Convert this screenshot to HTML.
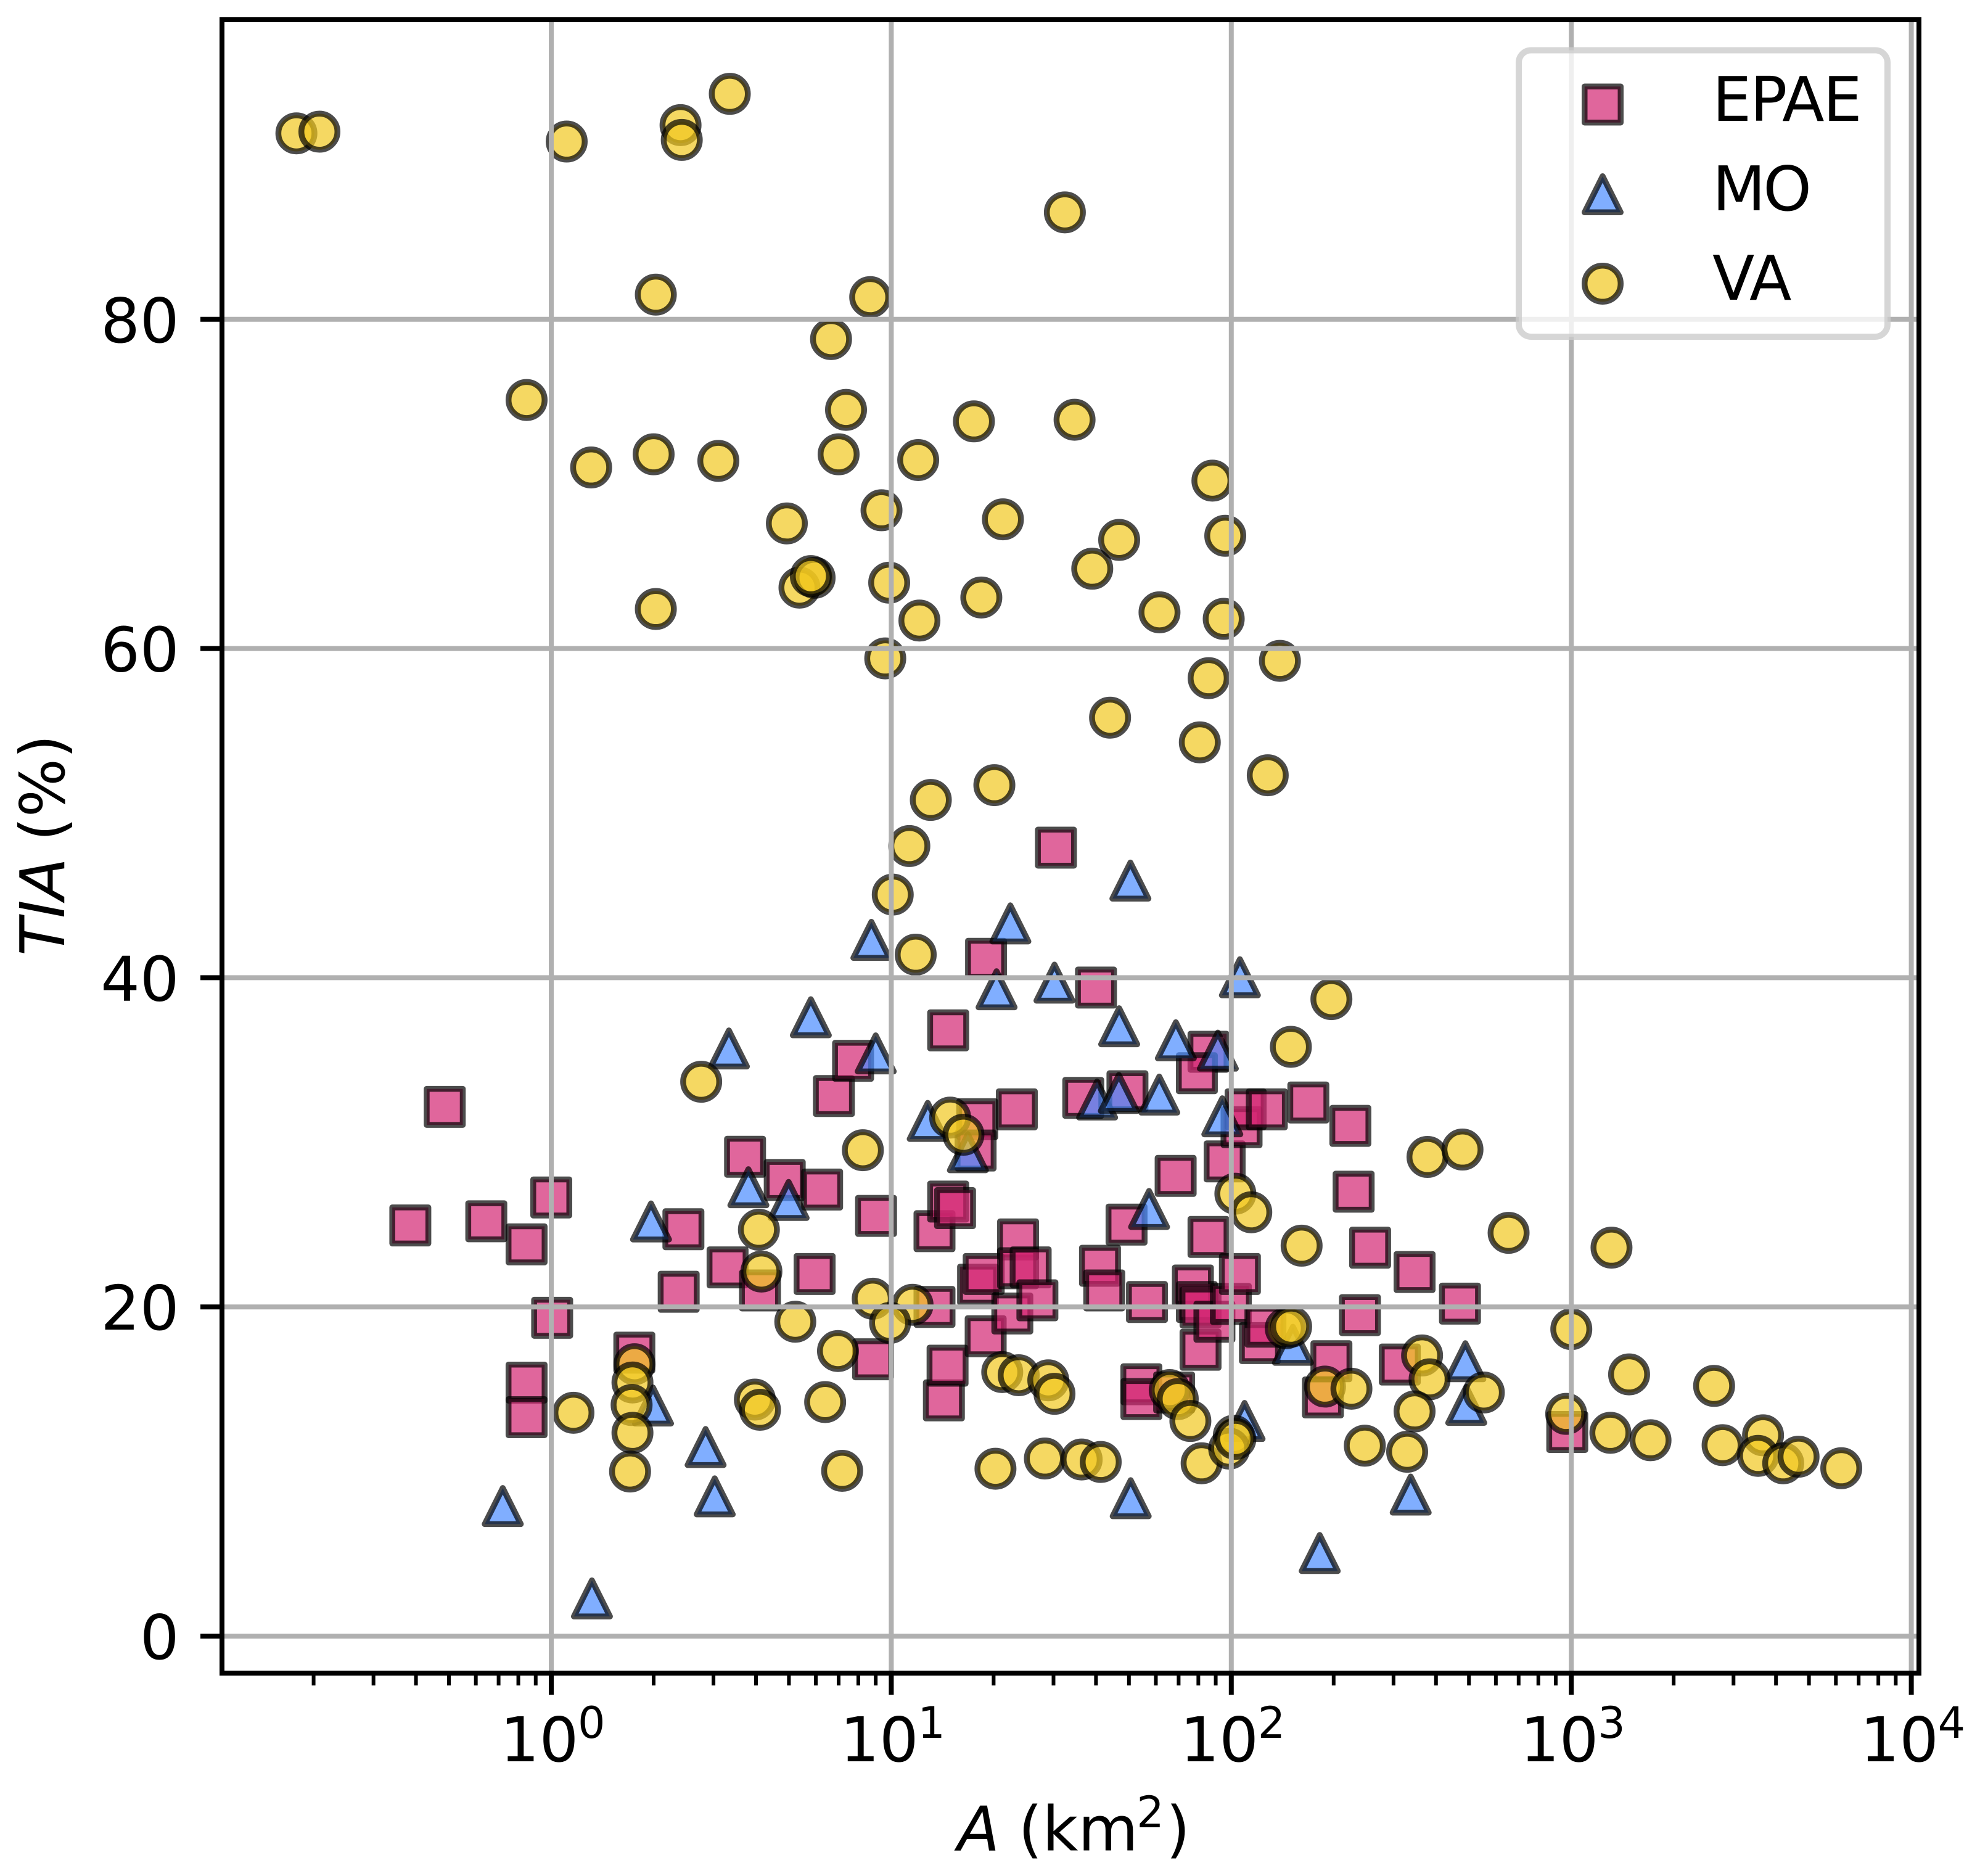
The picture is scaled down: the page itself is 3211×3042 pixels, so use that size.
<!DOCTYPE html>
<html lang="en">
<head>
<meta charset="utf-8">
<title>TIA vs A scatter</title>
<style>
html,body{margin:0;padding:0;background:#fff;width:3211px;height:3042px;overflow:hidden}
svg{display:block}
text{font-family:"DejaVu Sans",sans-serif;fill:#000;font-size:100px}
</style>
</head>
<body>
<svg id="chart" xmlns="http://www.w3.org/2000/svg" width="3211" height="3042" viewBox="0 0 3211 3042">
<rect x="0" y="0" width="3211" height="3042" fill="#fff"/>
<g id="marks"></g>
<g id="grid"></g>
<g id="ticks"></g>
<rect x="360" y="32" width="2752" height="2681" fill="none" stroke="#000" stroke-width="8" stroke-linejoin="miter"/>
<text x="1552.7" y="3000.5"><tspan font-style="italic">A</tspan> <tspan x="1651.4">(km</tspan><tspan x="1843.2" dy="-37.5" style="font-size:70px">2</tspan><tspan x="1891" dy="37.5">)</tspan></text>
<text transform="translate(104,1370.5) rotate(-90)" text-anchor="middle"><tspan font-style="italic">TIA</tspan><tspan dx="-5"> (%)</tspan></text>
<g id="legend">
<rect x="2463" y="81.5" width="598" height="464.5" rx="20" ry="20" fill="#fff" fill-opacity="0.8" stroke="#ccc" stroke-opacity="0.8" stroke-width="10"/>
<rect x="2569.75" y="140.25" width="58.5" height="58.5" fill="#d32572" fill-opacity="0.7" stroke="#000" stroke-opacity="0.7" stroke-width="9.5" stroke-linejoin="round"/>
<text x="2777" y="196" letter-spacing="-2">EPAE</text>
<polygon points="2599,285.75 2569.75,344.25 2628.25,344.25" fill="#4a8cff" fill-opacity="0.7" stroke="#000" stroke-opacity="0.7" stroke-width="9.5" stroke-linejoin="round"/>
<text x="2777" y="341" letter-spacing="-4">MO</text>
<circle cx="2599" cy="460" r="29.25" fill="#f1c81f" fill-opacity="0.7" stroke="#000" stroke-opacity="0.7" stroke-width="9.5"/>
<text x="2777" y="486" letter-spacing="-2">VA</text>
</g>
</svg>
<script>
const xTickExponents = [0, 1, 2, 3, 4];
const yTickValues = [0, 20, 40, 60, 80];
const minorMultipliers = [2, 3, 4, 5, 6, 7, 8, 9];
const minorDecades = [0.1, 1, 10, 100, 1000];

const epaeA = [0.486,0.385,0.644,0.846,1.0,1.006,0.846,0.846,1.755,2.447,2.37,3.3,3.715,4.11,4.86,6.26,5.95,6.78,7.72,9.02,8.84,13.4,13.4,14.28,14.64,14.7,14.7,15.4,17.9,17.7,19,23.4,23.6,18.0,18.7,18.95,22.7,23.6,25.7,26.9,30.5,40,36.7,49.5,49.2,41.1,42.3,56.5,54.4,54.4,68.6,85.7,79.2,77.1,85.7,95.6,79.2,81.2,81.2,89.2,99.7,106,107.2,110.2,127.2,168.5,224,229,256,346,470.5,239,121.4,126,197,186,313,973,67.9];
const epaeTIA = [32.15,24.95,25.2,23.8,26.65,19.34,15.4,13.3,17.22,24.72,20.92,22.4,29.12,21.0,27.71,27.13,22.0,32.81,34.95,25.53,16.82,24.6,20.0,14.32,16.43,36.8,26.4,26.0,31.4,29.5,41.15,32.0,24.1,21.35,22.0,18.22,19.6,22.35,22.4,20.4,47.9,39.4,32.7,33.1,25.0,22.5,21.0,20.3,15.3,14.4,27.96,35.5,34.2,21.3,24.25,28.84,20.3,19.96,17.4,19.1,20.18,22.0,30.92,32,32,32.42,31,27,23.6,22.12,20.2,19.5,17.8,18.8,16.7,14.5,16.5,12.4,14.8];

const moA = [1.317,0.72,2.844,3.025,1.965,1.992,3.33,3.80,4.99,5.8,8.74,9.0,12.8,16.8,20.4,22.4,30.2,50.5,46.8,40.3,46.7,61.4,68.7,91.3,106,94.1,57.3,50.6,109.4,182,151.8,337,488,491];
const moTIA = [2.29,7.9,11.49,8.49,25.19,14.01,35.7,27.27,26.5,37.6,42.3,35.4,31.3,29.4,39.3,43.3,39.7,45.9,37.05,32.6,33.0,32.9,36.2,35.57,40.03,31.58,25.95,8.38,13.07,5.05,17.7,8.6,16.7,14.05];

const vaA = [0.178,0.208,1.11,2.40,2.42,3.35,32.4,2.03,8.67,6.65,0.846,7.36,17.5,34.6,1.31,2.0,3.1,7.0,12,88,4.93,9.36,21.3,46.8,96,39,5.37,5.95,5.8,9.86,2.03,12.1,18.4,61.5,95,9.6,139,85.8,44,80.8,128,20.1,13.07,11.3,10.1,11.8,197,149.7,2.76,8.25,14.9,16.3,377.6,478.6,102.8,114.5,654,161,1313,4.08,4.15,8.82,5.22,11.55,9.92,6.97,1.757,1.733,1.723,1.733,1.705,1.162,3.97,4.11,6.39,7.17,21.2,23.7,28.96,30.2,20.25,28.3,36.3,41.3,65.9,69.6,75.8,81.8,101.7,98.6,102.8,144.6,150,188.6,225.6,247,364,383,346,329,553,1000,966,1479,1303,1710,2630,2786,3664,3543,4200,4660,6223];
const vaTIA = [91.3,91.4,90.8,91.8,90.9,93.7,86.5,81.5,81.35,78.8,75.1,74.5,73.8,73.9,71.0,71.8,71.4,71.8,71.45,70.2,67.6,68.4,67.85,66.6,66.85,64.85,63.7,64.3,64.4,64,62.4,61.7,63.1,62.2,61.8,59.4,59.25,58.2,55.8,54.3,52.3,51.7,50.8,48,45.05,41.4,38.7,35.8,33.68,29.52,31.5,30.46,29.11,29.56,26.88,25.75,24.5,23.72,23.6,24.69,22.15,20.5,19.1,20.13,19.03,17.32,16.52,15.41,14.04,12.35,10.0,13.57,14.37,13.75,14.22,10.04,16.04,15.85,15.54,14.72,10.17,10.79,10.73,10.58,14.95,14.4,13.07,10.5,12.17,11.39,11.98,18.7,18.8,15.16,15.03,11.57,17.05,15.6,13.65,11.2,14.8,18.65,13.5,15.9,12.35,11.9,15.2,11.6,12.2,10.95,10.5,10.9,10.2];

const NS = 'http://www.w3.org/2000/svg';
const plotLeft = 360, plotRight = 3112, plotTop = 32, plotBottom = 2713;
const markerSize = 58.5;
function sx(v) { return 894 + 551.4 * Math.log10(v); }
function sy(v) { return 2653 - 26.69 * v; }
function make(tag, attrs, parent) {
  const el = document.createElementNS(NS, tag);
  for (const k in attrs) el.setAttribute(k, attrs[k]);
  parent.appendChild(el);
  return el;
}
const marks = document.getElementById('marks');
const gridG = document.getElementById('grid');
const ticksG = document.getElementById('ticks');

function styleMark(el, fill) {
  el.setAttribute('fill', fill);
  el.setAttribute('fill-opacity', '0.7');
  el.setAttribute('stroke', '#000');
  el.setAttribute('stroke-opacity', '0.7');
  el.setAttribute('stroke-width', '9.5');
  el.setAttribute('stroke-linejoin', 'round');
}

epaeA.forEach(function (a, i) {
  const cx = sx(a), cy = sy(epaeTIA[i]);
  const el = make('rect', { x: cx - markerSize / 2, y: cy - markerSize / 2, width: markerSize, height: markerSize }, marks);
  styleMark(el, '#d32572');
  
  
});
moA.forEach(function (a, i) {
  const cx = sx(a), cy = sy(moTIA[i]), h = markerSize / 2;
  const el = make('polygon', { points: cx + ',' + (cy - h) + ' ' + (cx - h) + ',' + (cy + h) + ' ' + (cx + h) + ',' + (cy + h) }, marks);
  styleMark(el, '#4a8cff');
  
  
});
vaA.forEach(function (a, i) {
  const el = make('circle', { cx: sx(a), cy: sy(vaTIA[i]), r: markerSize / 2 }, marks);
  styleMark(el, '#f1c81f');
  
  
});

xTickExponents.forEach(function (e) {
  const x = sx(Math.pow(10, e));
  const g = make('line', { x1: x, x2: x, y1: plotTop, y2: plotBottom, stroke: '#b0b0b0', 'stroke-width': 8 }, gridG);
  
  
  const t = make('line', { x1: x, x2: x, y1: plotBottom, y2: plotBottom + 35, stroke: '#000', 'stroke-width': 8 }, ticksG);
  
  
  const base = make('text', { x: x - 83, y: 2856 }, ticksG);
  base.textContent = '10';
  
  
  const sup = make('text', { x: x + 43, y: 2818 }, ticksG);
  sup.style.fontSize = '70px';
  sup.textContent = String(e);
  
  
});
minorDecades.forEach(function (d) {
  minorMultipliers.forEach(function (m) {
    const v = d * m, x = sx(v);
    if (x < plotLeft || x > plotRight) return;
    const t = make('line', { x1: x, x2: x, y1: plotBottom, y2: plotBottom + 20, stroke: '#000', 'stroke-width': 6 }, ticksG);
    
    
  });
});
yTickValues.forEach(function (v) {
  const y = sy(v);
  const g = make('line', { x1: plotLeft, x2: plotRight, y1: y, y2: y, stroke: '#b0b0b0', 'stroke-width': 8 }, gridG);
  
  
  const t = make('line', { x1: plotLeft - 35, x2: plotLeft, y1: y, y2: y, stroke: '#000', 'stroke-width': 8 }, ticksG);
  
  
  const l = make('text', { x: 290.5, y: y + 37, 'text-anchor': 'end' }, ticksG);
  l.textContent = String(v);
  
  
});
</script>
</body>
</html>
